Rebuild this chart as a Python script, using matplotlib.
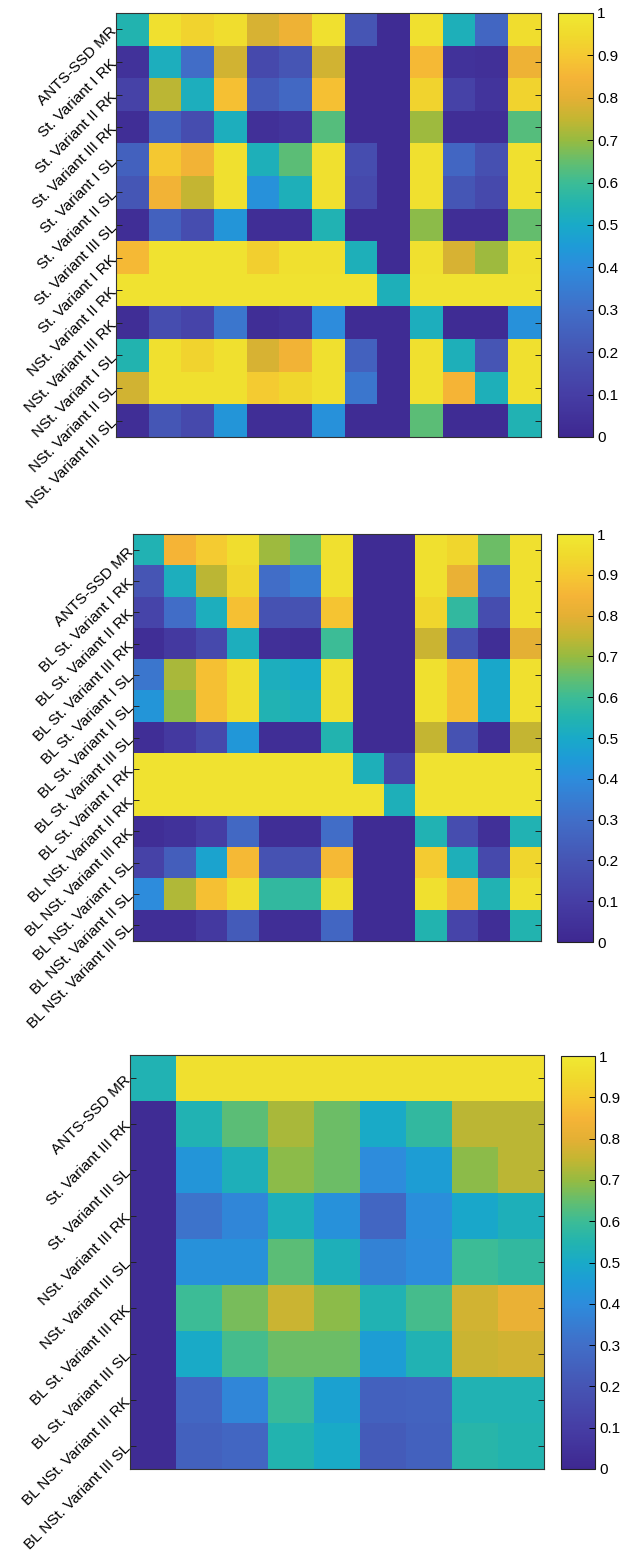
import numpy as np
import matplotlib
matplotlib.use('Agg')
from matplotlib import pyplot as plt
from matplotlib.colors import LinearSegmentedColormap

plt.rcParams['font.family'] = ['Liberation Sans', 'DejaVu Sans']

# row labels of the three matrices
labels_st = ["ANTS-SSD MR",
             "St. Variant I RK", "St. Variant II RK", "St. Variant III RK",
             "St. Variant I SL", "St. Variant II SL", "St. Variant III SL",
             "St. Variant I RK", "NSt. Variant II RK", "NSt. Variant III RK",
             "NSt. Variant I SL", "NSt. Variant II SL", "NSt. Variant III SL"]

labels_bl = ["ANTS-SSD MR",
             "BL St. Variant I RK", "BL St. Variant II RK", "BL St. Variant III RK",
             "BL St. Variant I SL", "BL St. Variant II SL", "BL St. Variant III SL",
             "BL St. Variant I RK", "BL NSt. Variant II RK", "BL NSt. Variant III RK",
             "BL NSt. Variant I SL", "BL NSt. Variant II SL", "BL NSt. Variant III SL"]

labels_v3 = ["ANTS-SSD MR",
             "St. Variant III RK", "St. Variant III SL",
             "NSt. Variant III RK", "NSt. Variant III SL",
             "BL St. Variant III RK", "BL St. Variant III SL",
             "BL NSt. Variant III RK", "BL NSt. Variant III SL"]

# values
vals_st = [
  [0.55, 0.97, 0.93, 0.96, 0.78, 0.83, 0.97, 0.20, 0.02, 0.97, 0.53, 0.27, 0.96],
  [0.05, 0.52, 0.30, 0.77, 0.15, 0.20, 0.77, 0.02, 0.02, 0.86, 0.05, 0.04, 0.83],
  [0.12, 0.74, 0.52, 0.88, 0.23, 0.28, 0.88, 0.02, 0.02, 0.93, 0.12, 0.06, 0.93],
  [0.03, 0.25, 0.17, 0.52, 0.04, 0.06, 0.63, 0.02, 0.02, 0.71, 0.03, 0.03, 0.63],
  [0.25, 0.90, 0.84, 0.97, 0.53, 0.64, 0.97, 0.17, 0.02, 0.97, 0.27, 0.18, 0.97],
  [0.21, 0.84, 0.75, 0.97, 0.42, 0.53, 0.97, 0.15, 0.02, 0.97, 0.21, 0.15, 0.97],
  [0.03, 0.25, 0.17, 0.43, 0.03, 0.03, 0.54, 0.02, 0.02, 0.69, 0.03, 0.03, 0.65],
  [0.86, 0.98, 0.98, 0.98, 0.92, 0.97, 0.97, 0.53, 0.02, 0.97, 0.78, 0.71, 0.97],
  [0.98, 0.98, 0.98, 0.98, 0.98, 0.98, 0.98, 0.98, 0.53, 0.98, 0.98, 0.98, 0.98],
  [0.03, 0.17, 0.13, 0.33, 0.03, 0.05, 0.40, 0.02, 0.02, 0.52, 0.02, 0.02, 0.42],
  [0.55, 0.97, 0.93, 0.97, 0.78, 0.84, 0.97, 0.25, 0.02, 0.97, 0.53, 0.20, 0.97],
  [0.77, 0.97, 0.97, 0.97, 0.91, 0.94, 0.97, 0.33, 0.02, 0.97, 0.85, 0.53, 0.97],
  [0.03, 0.21, 0.15, 0.43, 0.03, 0.03, 0.42, 0.02, 0.02, 0.64, 0.02, 0.02, 0.54],
]

vals_bl = [
  [0.54, 0.85, 0.91, 0.96, 0.71, 0.65, 0.97, 0.02, 0.02, 0.97, 0.94, 0.66, 0.97],
  [0.20, 0.52, 0.74, 0.94, 0.30, 0.35, 0.97, 0.02, 0.02, 0.97, 0.82, 0.28, 0.97],
  [0.13, 0.30, 0.52, 0.88, 0.19, 0.19, 0.89, 0.02, 0.02, 0.94, 0.58, 0.17, 0.97],
  [0.03, 0.08, 0.15, 0.52, 0.04, 0.03, 0.60, 0.02, 0.02, 0.76, 0.19, 0.03, 0.80],
  [0.33, 0.72, 0.88, 0.96, 0.52, 0.50, 0.97, 0.02, 0.02, 0.97, 0.88, 0.49, 0.97],
  [0.43, 0.69, 0.88, 0.96, 0.54, 0.52, 0.97, 0.02, 0.02, 0.97, 0.88, 0.49, 0.97],
  [0.03, 0.08, 0.15, 0.44, 0.03, 0.03, 0.55, 0.02, 0.02, 0.75, 0.19, 0.03, 0.75],
  [0.98, 0.98, 0.98, 0.98, 0.98, 0.98, 0.98, 0.53, 0.13, 0.98, 0.98, 0.98, 0.98],
  [0.98, 0.98, 0.98, 0.98, 0.98, 0.98, 0.98, 0.98, 0.53, 0.98, 0.98, 0.98, 0.98],
  [0.03, 0.05, 0.10, 0.28, 0.03, 0.03, 0.30, 0.02, 0.02, 0.54, 0.17, 0.04, 0.54],
  [0.12, 0.24, 0.48, 0.86, 0.19, 0.19, 0.86, 0.02, 0.02, 0.91, 0.53, 0.15, 0.94],
  [0.40, 0.73, 0.88, 0.96, 0.58, 0.58, 0.97, 0.02, 0.02, 0.97, 0.87, 0.54, 0.97],
  [0.03, 0.03, 0.08, 0.23, 0.03, 0.03, 0.27, 0.02, 0.02, 0.55, 0.13, 0.03, 0.55],
]

vals_v3 = [
  [0.54, 0.97, 0.97, 0.97, 0.97, 0.97, 0.97, 0.97, 0.97],
  [0.02, 0.54, 0.64, 0.72, 0.66, 0.50, 0.58, 0.74, 0.74],
  [0.02, 0.43, 0.53, 0.69, 0.66, 0.40, 0.46, 0.69, 0.74],
  [0.02, 0.32, 0.38, 0.53, 0.42, 0.27, 0.41, 0.49, 0.53],
  [0.02, 0.42, 0.42, 0.64, 0.53, 0.37, 0.40, 0.60, 0.58],
  [0.02, 0.60, 0.67, 0.76, 0.69, 0.54, 0.61, 0.77, 0.82],
  [0.02, 0.50, 0.61, 0.66, 0.66, 0.46, 0.54, 0.76, 0.77],
  [0.02, 0.27, 0.38, 0.59, 0.47, 0.25, 0.26, 0.54, 0.54],
  [0.02, 0.25, 0.27, 0.55, 0.50, 0.23, 0.25, 0.56, 0.55],
]

# parula-like colour ramp, picked from the colour bars
ramp = [(0.00, (62, 40, 145)), (0.10, (70, 62, 165)), (0.20, (70, 85, 180)),
        (0.30, (65, 110, 200)), (0.35, (55, 125, 210)), (0.40, (45, 140, 220)),
        (0.45, (30, 155, 215)), (0.50, (25, 170, 200)), (0.55, (35, 180, 175)),
        (0.60, (60, 188, 150)), (0.65, (100, 190, 110)), (0.70, (150, 187, 65)),
        (0.75, (195, 182, 50)), (0.80, (228, 176, 52)), (0.85, (245, 180, 55)),
        (0.90, (245, 200, 50)), (0.95, (240, 218, 45)), (1.00, (240, 232, 50))]
parula = LinearSegmentedColormap.from_list(
  'parula_like', [(v, tuple(c / 255 for c in rgb)) for v, rgb in ramp])

W, H = 624, 1561

def px_box(x0, y0, x1, y1):
  # pixel box (top-left origin) -> figure fraction
  return [x0 / W, 1 - y1 / H, (x1 - x0) / W, (y1 - y0) / H]


def draw_panel(fig, box, cbox, vals, labels):
  ax = fig.add_axes(px_box(*box))
  im = ax.imshow(np.array(vals), cmap=parula, vmin=0, vmax=1,
                 aspect='auto', interpolation='nearest')
  ax.set_xticks([])
  ax.set_yticks(range(len(labels)))
  ax.set_yticklabels(labels, rotation=45, ha='right', va='center',
                     rotation_mode='anchor', fontsize=11)
  ax.tick_params(axis='y', direction='in', left=True, right=True,
                 length=4, width=0.7, pad=1, color='#222222')
  for s in ax.spines.values():
    s.set_linewidth(0.8)
    s.set_color('#333333')

  cax = fig.add_axes(px_box(*cbox))
  cb = fig.colorbar(im, cax=cax)
  ticks = np.round(np.arange(0, 1.01, 0.1), 1)
  cb.set_ticks(ticks)
  cb.set_ticklabels([f'{t:g}' for t in ticks])
  cb.outline.set_linewidth(0.8)
  cb.outline.set_edgecolor('#222222')
  cax.tick_params(direction='in', length=4, width=0.7, labelsize=11, pad=3)
  return ax


fig = plt.figure(figsize=(W / 100, H / 100), dpi=100)

draw_panel(fig, (116, 13, 541, 437), (558, 13, 593, 437), vals_st, labels_st)
draw_panel(fig, (133, 534, 541, 941), (557, 534, 593, 942), vals_bl, labels_bl)
draw_panel(fig, (130, 1055, 544, 1469), (561, 1056, 595, 1469), vals_v3, labels_v3)

fig.savefig('out.png', dpi=100)
